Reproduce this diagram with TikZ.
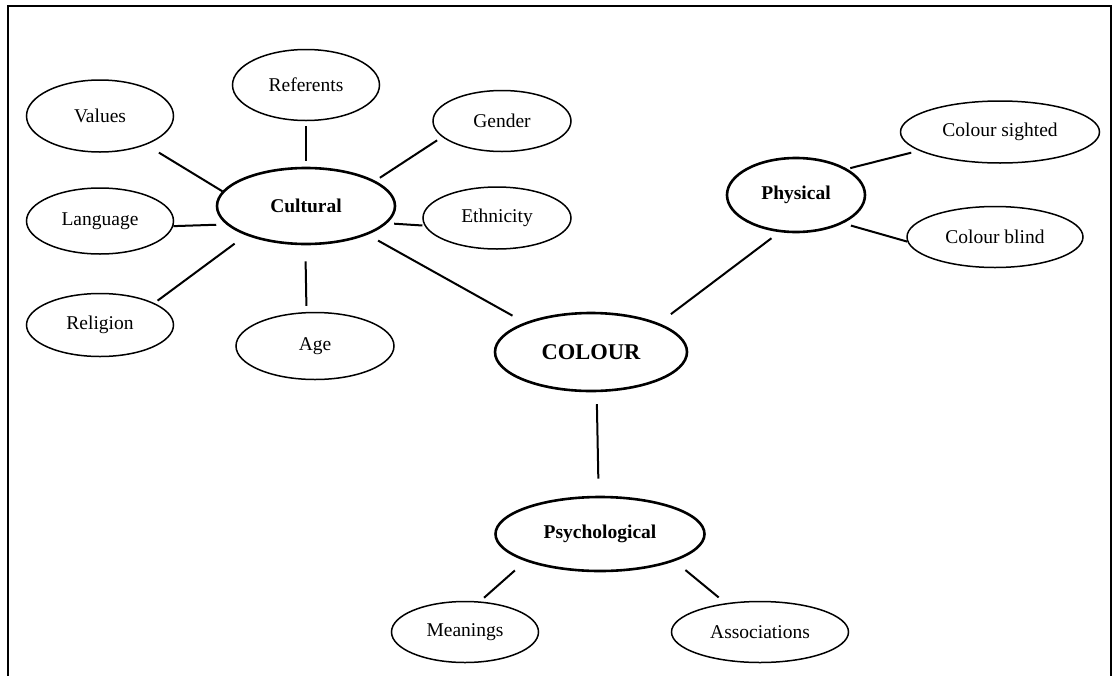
\documentclass[tikz,border=0pt]{standalone}
\usepackage{fontspec}
\setmainfont{Liberation Serif}
\usetikzlibrary{shapes.geometric}
\tikzset{
  leaf/.style={ellipse, draw, line width=1.5pt, inner sep=0pt, font=\fontsize{19.5}{22}\selectfont},
  hub/.style={leaf, line width=2.6pt, font=\fontsize{19.5}{22}\selectfont\bfseries},
  link/.style={line width=2pt},
  frameline/.style={line width=2.2pt}
}
\begin{document}
\begin{tikzpicture}[x=1pt,y=-1pt]
\useasboundingbox (0,0) rectangle (1114,675);
% frame (open at the bottom)
\coordinate (fbl) at (8,676);
\coordinate (ftl) at (8,6);
\coordinate (ftr) at (1111,6);
\coordinate (fbr) at (1111,676);
\draw[frameline] (fbl) -- (ftl) -- (ftr) -- (fbr);

% hubs
\node[hub, minimum width=178pt, minimum height=76pt] (cultural) at (306,206) {Cultural};
\node[hub, minimum width=192pt, minimum height=78pt, font=\fontsize{22.5}{26}\selectfont\bfseries] (colour) at (591,352) {COLOUR};
\node[hub, minimum width=138pt, minimum height=74pt] (physical) at (796,195) {Physical};
\node[hub, minimum width=209pt, minimum height=74pt] (psych) at (600,534) {Psychological};

% cultural leaves
\node[leaf, minimum width=147pt, minimum height=72pt] (values) at (100,116) {Values};
\node[leaf, minimum width=147pt, minimum height=71pt] (referents) at (306,85) {Referents};
\node[leaf, minimum width=138pt, minimum height=61pt] (gender) at (502,121) {Gender};
\node[leaf, minimum width=147pt, minimum height=66pt] (language) at (100,221) {Language};
\node[leaf, minimum width=148pt, minimum height=62pt] (ethnicity) at (497,218) {Ethnicity};
\node[leaf, minimum width=147pt, minimum height=63pt] (religion) at (100,325) {Religion};
\node[leaf, minimum width=158pt, minimum height=67pt] (age) at (315,346) {Age};

% physical leaves
\node[leaf, minimum width=199pt, minimum height=62pt] (sighted) at (1000,132) {Colour sighted};
\node[leaf, minimum width=176pt, minimum height=61pt] (blind) at (995,237) {Colour blind};

% psychological leaves
\node[leaf, minimum width=147pt, minimum height=61pt] (meanings) at (465,632) {Meanings};
\node[leaf, minimum width=177pt, minimum height=61pt] (assoc) at (760,632) {Associations};

% connectors
\draw[link, shorten <=15pt] (values.-32.5) -- (cultural.170.4);
\draw[link, shorten <=4.5pt, shorten >=6pt] (referents.south) -- (cultural.north);
\draw[link, shorten <=6pt, shorten >=5.5pt] (gender.195.7) -- (cultural.20.6);
\draw[link, shorten >=10pt] (language.-4.7) -- (cultural.193);
\draw[link, shorten <=2pt, shorten >=7pt] (ethnicity.186.2) -- (cultural.-12.9);
\draw[link, shorten <=4pt, shorten >=14pt] (religion.22) -- (cultural.206);
\draw[link, shorten <=6pt, shorten >=16pt] (age.104) -- (cultural.-91);
\draw[link, shorten <=12pt, shorten >=14pt] (cultural.-25.9) -- (colour.156.4);
\draw[link, shorten <=15pt, shorten >=10pt] (colour.23.1) -- (physical.246);
\draw[link, shorten <=3pt, shorten >=8pt] (physical.27) -- (sighted.193.3);
\draw[link, shorten <=8pt] (physical.-31.1) -- (blind.183.2);
\draw[link, shorten <=12pt, shorten >=17pt] (colour.-82) -- (psych.92);
\draw[link, shorten <=14pt, shorten >=5.5pt] (psych.200.1) -- (meanings.64.1);
\draw[link, shorten <=14pt, shorten >=9pt] (psych.-20.8) -- (assoc.140.9);
\end{tikzpicture}
\end{document}
